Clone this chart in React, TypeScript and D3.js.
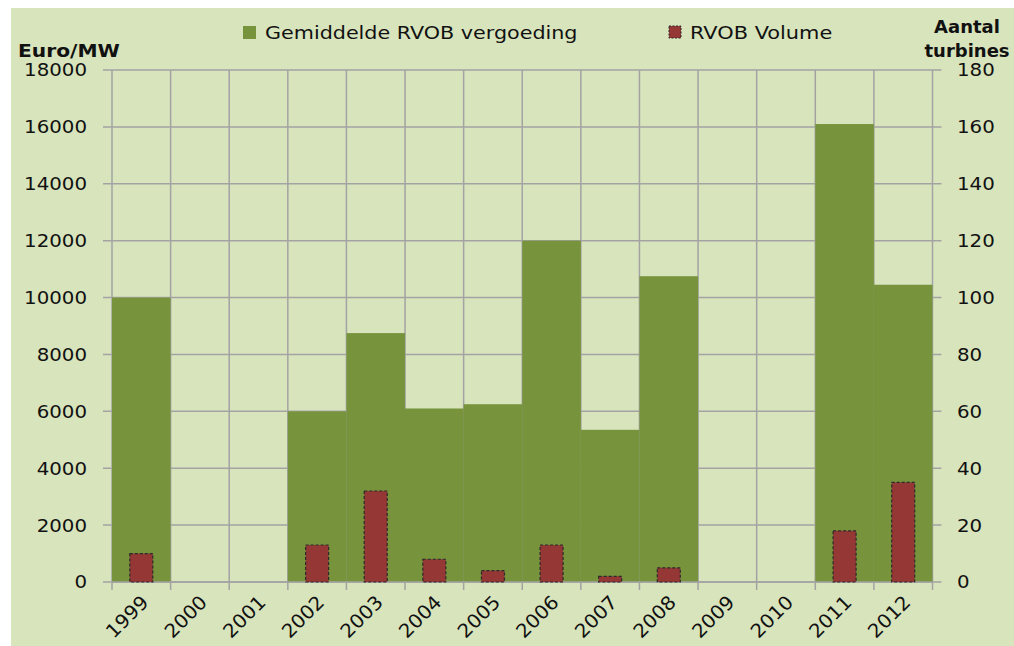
import React from "react";
import * as d3 from "d3";

const years = ["1999", "2000", "2001", "2002", "2003", "2004", "2005", "2006", "2007", "2008", "2009", "2010", "2011", "2012"];
const vergoeding = [10000, 0, 0, 6000, 8750, 6100, 6250, 12000, 5350, 10750, 0, 0, 16100, 10450];
const volume = [10, 0, 0, 13, 32, 8, 4, 13, 2, 5, 0, 0, 18, 35];
const leftTicks = [0, 2000, 4000, 6000, 8000, 10000, 12000, 14000, 16000, 18000];
const rightTicks = [0, 20, 40, 60, 80, 100, 120, 140, 160, 180];

const W = 1014;
const H = 646;
const margin = { left: 112, right: 81.5, top: 70, bottom: 64 };
const green = "#77933c";
const red = "#953735";
const grid = "#a3a3a3";
const font = "'DejaVu Sans', sans-serif";

// stretched text, the original is a wide-rendered Calibri
function T(props: {
  x: number;
  y: number;
  sx?: number;
  size?: number;
  anchor?: string;
  bold?: boolean;
  dy?: string;
  rotate?: number;
  children: React.ReactNode;
}) {
  const { x, y, sx = 1, size = 18, anchor = "start", bold, dy, rotate = 0, children } = props;
  return (
    <text
      transform={`translate(${x},${y}) rotate(${rotate}) scale(${sx},1)`}
      textAnchor={anchor}
      dy={dy}
      fontSize={size}
      fontWeight={bold ? "bold" : "normal"}
      fill="#111"
    >
      {children}
    </text>
  );
}

export default function App() {
  const x = d3
    .scaleBand()
    .domain(years)
    .range([margin.left, W - margin.right])
    .paddingInner(0)
    .paddingOuter(0);
  const yL = d3.scaleLinear().domain([0, 18000]).range([H - margin.bottom, margin.top]);
  const yR = d3.scaleLinear().domain([0, 180]).range([H - margin.bottom, margin.top]);
  const bw = x.bandwidth();
  const redW = 23;
  const x0 = margin.left;
  const x1 = W - margin.right;
  const y0 = H - margin.bottom;

  const boundaries = years.map((y) => x(y)!).concat([x1]);

  return (
    <svg
      width={W}
      height={H}
      style={{ position: "absolute", left: 0, top: 0 }}
      fontFamily={font}
    >
      <rect x={0} y={0} width={W} height={H} fill="#fff" />
      <rect x={11} y={8} width={W - 11} height={H - 8} fill="#d8e4bc" />

      {/* horizontal grid */}
      {leftTicks.map((t) => (
        <line key={"h" + t} x1={x0 - 9} x2={x1 + 9} y1={yL(t)} y2={yL(t)} stroke={grid} strokeWidth={1.5} />
      ))}
      {/* vertical grid */}
      {boundaries.map((b, i) => (
        <line key={"v" + i} x1={b} x2={b} y1={margin.top} y2={y0 + 8} stroke={grid} strokeWidth={1.5} />
      ))}

      {/* green bars */}
      {years.map((y, i) =>
        vergoeding[i] > 0 ? (
          <rect key={"g" + y} x={x(y)!} y={yL(vergoeding[i])} width={bw} height={y0 - yL(vergoeding[i])} fill={green} />
        ) : null
      )}
      <line x1={x0} x2={x1} y1={y0} y2={y0} stroke={grid} strokeWidth={1.5} />

      {/* red bars */}
      {years.map((y, i) =>
        volume[i] > 0 ? (
          <rect
            key={"r" + y}
            x={x(y)! + bw / 2 - redW / 2}
            y={yR(volume[i])}
            width={redW}
            height={y0 - yR(volume[i])}
            fill={red}
            stroke="#2a2a2a"
            strokeWidth={1.2}
            strokeDasharray="3,2"
          />
        ) : null
      )}

      {/* left tick labels */}
      {leftTicks.map((t) => (
        <T key={"lt" + t} x={87} y={yL(t)} dy="0.36em" anchor="end" sx={1.1}>
          {t}
        </T>
      ))}
      {/* right tick labels */}
      {rightTicks.map((t) => (
        <T key={"rt" + t} x={957} y={yR(t)} dy="0.36em" sx={1.1}>
          {t}
        </T>
      ))}

      {/* x labels */}
      {years.map((y) => (
        <T key={"xl" + y} x={x(y)! + bw / 2 - 1} y={y0 + 12} anchor="end" dy="0.7em" rotate={-45} size={19} sx={1.05}>
          {y}
        </T>
      ))}

      {/* axis titles */}
      <T x={18} y={57} size={17} bold sx={1.19}>
        Euro/MW
      </T>
      <T x={967} y={33} size={17} bold anchor="middle" sx={1.06}>
        Aantal
      </T>
      <T x={967} y={57} size={17} bold anchor="middle" sx={1.06}>
        turbines
      </T>

      {/* legend */}
      <rect x={243} y={26} width={13} height={13} fill={green} />
      <T x={265} y={39} sx={1.15}>
        Gemiddelde RVOB vergoeding
      </T>
      <rect x={669} y={26} width={12} height={12} fill={red} stroke="#2a2a2a" strokeWidth={1} strokeDasharray="2,1.5" />
      <T x={690} y={39} sx={1.16}>
        RVOB Volume
      </T>
    </svg>
  );
}
